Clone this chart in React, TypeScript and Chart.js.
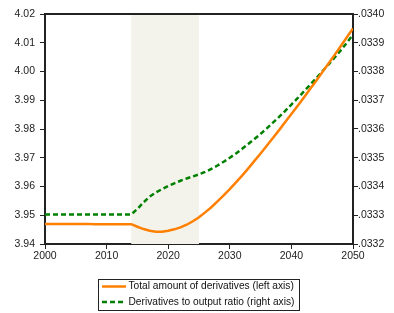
import React, { useEffect, useRef } from 'react';
import { Chart, registerables } from 'chart.js';

Chart.register(...registerables);

const years = [
  2000, 2001, 2002, 2003, 2004, 2005, 2006, 2007, 2008, 2009,
  2010, 2011, 2012, 2013, 2014, 2015, 2016, 2017, 2018, 2019,
  2020, 2021, 2022, 2023, 2024, 2025, 2026, 2027, 2028, 2029,
  2030, 2031, 2032, 2033, 2034, 2035, 2036, 2037, 2038, 2039,
  2040, 2041, 2042, 2043, 2044, 2045, 2046, 2047, 2048, 2049, 2050,
];

// Total amount of derivatives (left axis)
const totalDerivatives = [
  3.9470, 3.9470, 3.9470, 3.9470, 3.9470, 3.9470, 3.9470, 3.9470, 3.9469, 3.9469,
  3.9469, 3.9469, 3.9469, 3.9469, 3.9469, 3.9460, 3.9452, 3.9446, 3.9443, 3.9443,
  3.9446, 3.9451, 3.9458, 3.9467, 3.9479, 3.9493, 3.9510, 3.9528, 3.9548, 3.9569,
  3.9591, 3.9614, 3.9638, 3.9663, 3.9689, 3.9715, 3.9742, 3.9769, 3.9796, 3.9824,
  3.9852, 3.9880, 3.9909, 3.9938, 3.9967, 3.9997, 4.0027, 4.0057, 4.0088, 4.0119, 4.0150,
];

// Derivatives to output ratio (right axis)
const derivativesRatio = [
  0.033303, 0.033303, 0.033303, 0.033303, 0.033303, 0.033303, 0.033303, 0.033303, 0.033303, 0.033303,
  0.033303, 0.033303, 0.033303, 0.033303, 0.033303, 0.033322, 0.033345, 0.033365, 0.033379, 0.033391,
  0.033402, 0.033411, 0.033420, 0.033428, 0.033435, 0.033442, 0.033451, 0.033461, 0.033473, 0.033486,
  0.033500, 0.033515, 0.033531, 0.033548, 0.033565, 0.033583, 0.033602, 0.033622, 0.033642, 0.033663,
  0.033685, 0.033707, 0.033730, 0.033753, 0.033776, 0.033800, 0.033824, 0.033848, 0.033873, 0.033900, 0.033928,
];

const shadeStart = 2014;
const shadeEnd = 2025;

const seriesLabels = [
  'Total amount of derivatives (left axis)',
  'Derivatives to output ratio (right axis)',
];

const ORANGE = 'rgb(255,128,0)';
const GREEN = 'rgb(0,128,0)';
const FONT = '"Liberation Sans", Arial, sans-serif';

export default function App() {
  const ref = useRef<HTMLCanvasElement>(null);

  useEffect(() => {
    const canvas = ref.current;
    if (!canvas) return;

    const shadePlugin = {
      id: 'shade',
      beforeDatasetsDraw(chart: any) {
        const { ctx, chartArea, scales } = chart;
        const x0 = scales.x.getPixelForValue(shadeStart);
        const x1 = scales.x.getPixelForValue(shadeEnd);
        ctx.save();
        ctx.fillStyle = '#f4f3eb';
        ctx.fillRect(x0, chartArea.top, x1 - x0, chartArea.bottom - chartArea.top);
        ctx.restore();
      },
    };

    const framePlugin = {
      id: 'frame',
      afterDatasetsDraw(chart: any) {
        const { ctx, chartArea } = chart;
        ctx.save();
        ctx.strokeStyle = '#222';
        ctx.lineWidth = 2;
        ctx.beginPath();
        ctx.moveTo(chartArea.left, chartArea.top);
        ctx.lineTo(chartArea.right, chartArea.top);
        ctx.stroke();
        ctx.restore();
      },
      afterDraw(chart: any) {
        const { ctx } = chart;
        ctx.save();
        ctx.strokeStyle = '#222';
        ctx.lineWidth = 1;
        ctx.strokeRect(98.5, 279.5, 201, 31);
        const rows = [
          { y: 286.5, color: ORANGE, dash: [] as number[], label: seriesLabels[0] },
          { y: 302, color: GREEN, dash: [5, 3], label: seriesLabels[1] },
        ];
        for (const r of rows) {
          ctx.strokeStyle = r.color;
          ctx.lineWidth = 2.5;
          ctx.setLineDash(r.dash);
          ctx.beginPath();
          ctx.moveTo(102, r.y);
          ctx.lineTo(126, r.y);
          ctx.stroke();
          ctx.setLineDash([]);
          ctx.fillStyle = '#111';
          ctx.font = `10.2px ${FONT}`;
          ctx.textBaseline = 'middle';
          ctx.textAlign = 'left';
          ctx.fillText(r.label, 128.5, r.y);
        }
        ctx.restore();
      },
    };

    const tickFont = { family: FONT, size: 10.5 };

    const chart = new Chart(canvas, {
      type: 'line',
      data: {
        datasets: [
          {
            label: seriesLabels[0],
            data: years.map((y, i) => ({ x: y, y: totalDerivatives[i] })),
            borderColor: ORANGE,
            borderWidth: 2.5,
            pointRadius: 0,
            tension: 0,
            yAxisID: 'y',
          },
          {
            label: seriesLabels[1],
            data: years.map((y, i) => ({ x: y, y: derivativesRatio[i] })),
            borderColor: GREEN,
            borderWidth: 2.5,
            borderDash: [5, 3],
            pointRadius: 0,
            tension: 0,
            yAxisID: 'y1',
          },
        ],
      },
      options: {
        responsive: false,
        animation: false,
        layout: { padding: { top: 14, left: 0, right: 0, bottom: 0 } },
        plugins: {
          legend: { display: false },
          tooltip: { enabled: false },
        },
        scales: {
          x: {
            type: 'linear',
            min: 2000,
            max: 2050,
            afterFit: (s: any) => { s.height = 69; },
            ticks: {
              stepSize: 10,
              autoSkip: false,
              maxRotation: 0,
              padding: 1,
              color: '#222',
              font: tickFont,
              callback: (v: any) => String(v),
            },
            grid: {
              display: true,
              drawOnChartArea: false,
              drawTicks: true,
              tickLength: 5,
              color: '#222',
            },
            border: { display: true, color: '#222', width: 2 },
          },
          y: {
            type: 'linear',
            position: 'left',
            min: 3.94,
            max: 4.02,
            afterFit: (s: any) => { s.width = 45; },
            ticks: {
              stepSize: 0.01,
              autoSkip: false,
              padding: 5,
              color: '#222',
              font: tickFont,
              callback: (v: any) => Number(v).toFixed(2),
            },
            grid: {
              display: true,
              drawOnChartArea: false,
              drawTicks: true,
              tickLength: 5,
              color: '#222',
            },
            border: { display: true, color: '#222', width: 2 },
          },
          y1: {
            type: 'linear',
            position: 'right',
            min: 0.0332,
            max: 0.034,
            afterFit: (s: any) => { s.width = 41; },
            ticks: {
              stepSize: 0.0001,
              autoSkip: false,
              padding: 0,
              color: '#222',
              font: tickFont,
              callback: (v: any) => Number(v).toFixed(4).replace(/^0/, ''),
            },
            grid: {
              display: true,
              drawOnChartArea: false,
              drawTicks: true,
              tickLength: 5,
              color: '#222',
            },
            border: { display: true, color: '#222', width: 2 },
          },
        },
      },
      plugins: [shadePlugin, framePlugin],
    } as any);

    return () => chart.destroy();
  }, []);

  return (
    <div style={{ position: 'fixed', left: 0, top: 0, width: 394, height: 313, background: '#fff' }}>
      <canvas ref={ref} width={394} height={313} style={{ display: 'block' }} />
    </div>
  );
}
